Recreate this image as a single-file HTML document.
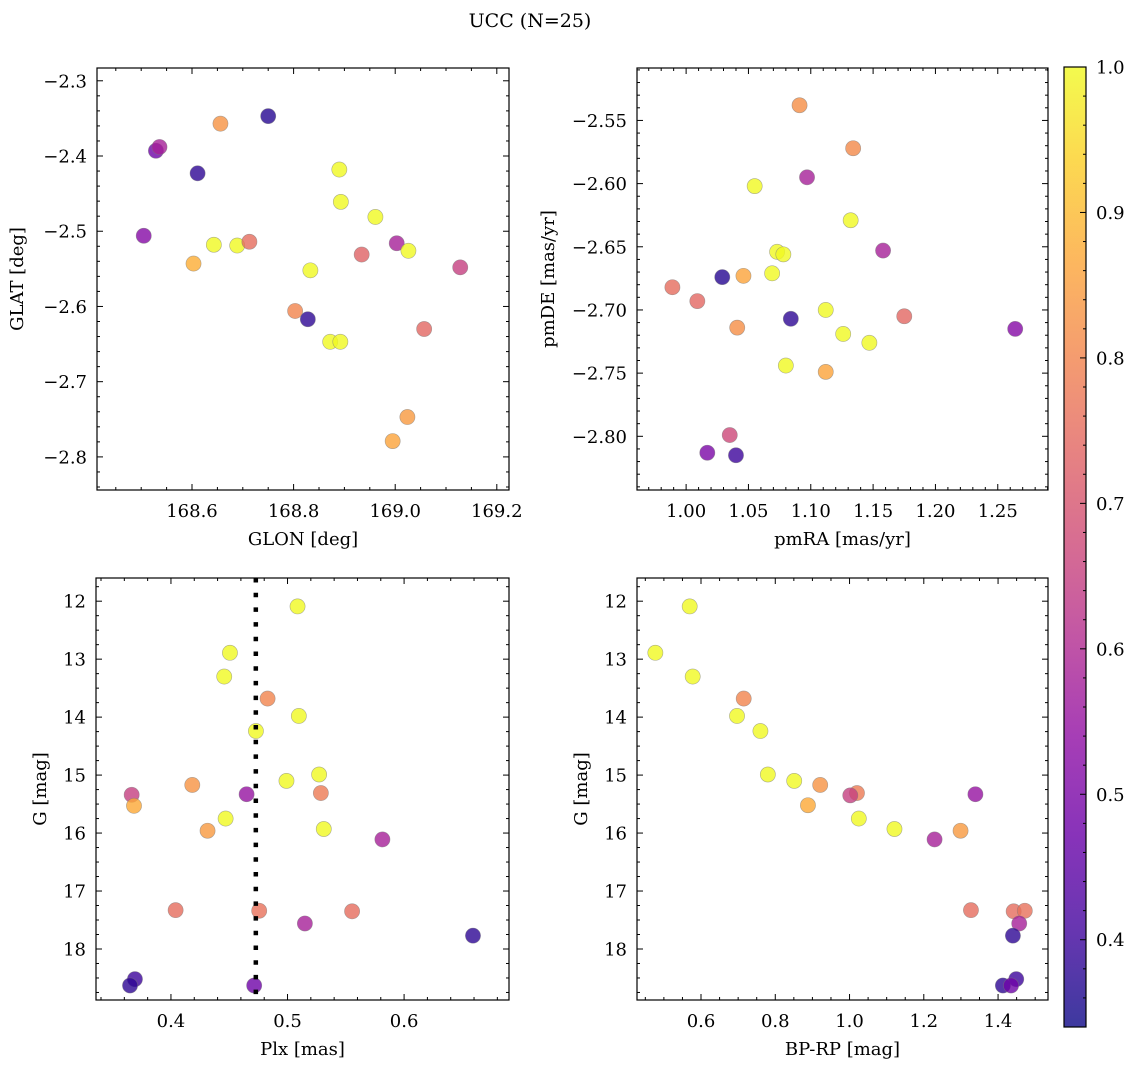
<!DOCTYPE html>
<html><head><meta charset="utf-8">
<style>
html,body{margin:0;padding:0;background:#fff;}
svg{display:block;font-family:"DejaVu Serif","Liberation Serif",serif;}
</style></head>
<body>
<svg id="fig" width="1136" height="1067" viewBox="0 0 1136 1067" xmlns="http://www.w3.org/2000/svg">
<text x="530" y="27" font-size="19" text-anchor="middle">UCC (N=25)</text>
</svg>
<script>
// ---- data: panel 1 (GLON vs GLAT)
const glonA = [168.505,168.529,168.536,168.603,168.611,168.643,168.656,168.689,168.713,168.750,168.803,168.828,168.833,168.872,168.892,168.890,168.893,168.934,168.961,169.003,169.026,169.024,168.995,169.057,169.128];
const glatA = [-2.506,-2.393,-2.388,-2.543,-2.423,-2.518,-2.357,-2.519,-2.514,-2.347,-2.606,-2.617,-2.552,-2.647,-2.647,-2.418,-2.461,-2.531,-2.481,-2.516,-2.526,-2.747,-2.779,-2.630,-2.548];
const probA = [0.52,0.48,0.58,0.88,0.38,1.0,0.83,1.0,0.75,0.37,0.80,0.38,1.0,1.0,1.0,1.0,1.0,0.73,1.0,0.58,1.0,0.84,0.86,0.74,0.65];
// ---- data: panel 2 (pmRA vs pmDE)
const pmraB = [0.989,1.009,1.017,1.029,1.035,1.040,1.041,1.046,1.055,1.069,1.073,1.078,1.080,1.084,1.091,1.097,1.112,1.112,1.126,1.132,1.134,1.147,1.158,1.175,1.264];
const pmdeB = [-2.682,-2.693,-2.813,-2.674,-2.799,-2.815,-2.714,-2.673,-2.602,-2.671,-2.654,-2.656,-2.744,-2.707,-2.538,-2.595,-2.700,-2.749,-2.719,-2.629,-2.572,-2.726,-2.653,-2.705,-2.715];
const probB = [0.75,0.74,0.50,0.37,0.67,0.40,0.82,0.86,1.0,1.0,1.0,1.0,1.0,0.38,0.82,0.58,1.0,0.86,1.0,1.0,0.81,1.0,0.58,0.74,0.52];
// ---- data: panel 3 (Plx vs G)
const plxC = [0.5086,0.4506,0.4457,0.4829,0.5097,0.4729,0.5271,0.4991,0.4183,0.5286,0.3663,0.4649,0.3683,0.4469,0.5311,0.4314,0.5814,0.4040,0.4757,0.5554,0.5149,0.6591,0.3691,0.3649,0.4714];
const gmagC = [12.09,12.89,13.30,13.68,13.98,14.24,14.99,15.10,15.17,15.31,15.34,15.33,15.53,15.75,15.93,15.96,16.11,17.33,17.34,17.35,17.56,17.77,18.52,18.63,18.63];
const probC = [1.0,1.0,1.0,0.80,1.0,1.0,1.0,1.0,0.83,0.78,0.65,0.55,0.87,1.0,1.0,0.84,0.58,0.75,0.76,0.75,0.58,0.38,0.40,0.38,0.48];
const plxLine = [0.4728];
// ---- data: panel 4 (BP-RP vs G)
const bprpD = [0.5695,0.477,0.5776,0.715,0.697,0.760,0.780,0.851,0.921,1.020,1.002,1.339,0.888,1.025,1.121,1.299,1.229,1.327,1.442,1.472,1.457,1.440,1.449,1.413,1.435];
const gmagD = [12.09,12.89,13.30,13.68,13.98,14.24,14.99,15.10,15.17,15.31,15.35,15.33,15.52,15.75,15.93,15.96,16.11,17.33,17.35,17.34,17.56,17.77,18.52,18.63,18.63];
const probD = [1.0,1.0,1.0,0.80,1.0,1.0,1.0,1.0,0.83,0.78,0.65,0.55,0.87,1.0,1.0,0.84,0.58,0.75,0.75,0.76,0.58,0.38,0.40,0.38,0.48];
// ---- tick labels
const ticksXA = [168.6,168.8,169.0,169.2], ticksYA = [-2.3,-2.4,-2.5,-2.6,-2.7,-2.8];
const ticksXB = [1.00,1.05,1.10,1.15,1.20,1.25], ticksYB = [-2.55,-2.60,-2.65,-2.70,-2.75,-2.80];
const ticksXC = [0.4,0.5,0.6], ticksYC = [12,13,14,15,16,17,18];
const ticksXD = [0.6,0.8,1.0,1.2,1.4], ticksYD = [12,13,14,15,16,17,18];
const cbTicks = [0.4,0.5,0.6,0.7,0.8,0.9,1.0];
const cbMin = 0.34, cbMax = 1.0;

const NS = "http://www.w3.org/2000/svg";
const fig = document.getElementById('fig');
const FS = 18;
function mk(tag, attrs, parent){ const e=document.createElementNS(NS,tag); for(const k in attrs) e.setAttribute(k,attrs[k]); (parent||fig).appendChild(e); return e; }
const plasma = [[13,8,135],[65,4,157],[106,0,168],[143,13,164],[177,42,144],[204,71,120],[225,100,98],[242,132,75],[252,166,54],[252,206,37],[240,249,33]];
function cmap(v){ let t=(v-cbMin)/(cbMax-cbMin); t=Math.max(0,Math.min(1,t)); const s=t*10, i=Math.min(9,Math.floor(s)), f=s-i; const a=plasma[i], b=plasma[i+1]; return 'rgb('+[0,1,2].map(k=>Math.round(a[k]+(b[k]-a[k])*f)).join(',')+')'; }
function fmt(v,d){ const s=Math.abs(v).toFixed(d); return (v<0?'\u2212':'')+s; }

function panel(o){
  const g = mk('g',{});
  
  
  const sx = v => o.L + (v-o.x0)/(o.x1-o.x0)*(o.R-o.L);
  const sy = v => o.inv ? o.T + (v-o.y0)/(o.y1-o.y0)*(o.B-o.T) : o.B - (v-o.y0)/(o.y1-o.y0)*(o.B-o.T);
  const pts = mk('g',{},g);
  
  
  for(let i=0;i<o.xs.length;i++){
    const c = mk('circle',{cx:sx(o.xs[i]),cy:sy(o.ys[i]),r:7.6,fill:cmap(o.cs[i]),'fill-opacity':0.8,stroke:'#7a7a7a','stroke-opacity':0.6,'stroke-width':0.6},pts);
    
    
  }
  if(o.vline){ for(const v of o.vline){ const l=mk('line',{x1:sx(v),x2:sx(v),y1:o.T,y2:o.B,stroke:'#000','stroke-width':4.5,'stroke-dasharray':'4.5,10.2'},g);
    
     } }
  const tk = mk('g',{stroke:'#000','stroke-width':1},g);
  const minorX = o.mx, minorY = o.my;
  const xs0 = Math.ceil((o.x0)/minorX-1e-6), xs1 = Math.floor(o.x1/minorX+1e-6);
  for(let k=xs0;k<=xs1;k++){ const v=k*minorX, x=sx(v); const major=Math.abs(((v/o.majX)-Math.round(v/o.majX)))<1e-4; const len=major?6:3;
    mk('line',{x1:x,x2:x,y1:o.B,y2:o.B-len},tk); mk('line',{x1:x,x2:x,y1:o.T,y2:o.T+len},tk); }
  const ys0 = Math.ceil(Math.min(o.y0,o.y1)/minorY-1e-6), ys1 = Math.floor(Math.max(o.y0,o.y1)/minorY+1e-6);
  for(let k=ys0;k<=ys1;k++){ const v=k*minorY, y=sy(v); const major=Math.abs((v/o.majY)-Math.round(v/o.majY))<1e-4; const len=major?6:3;
    mk('line',{x1:o.L,x2:o.L+len,y1:y,y2:y},tk); mk('line',{x1:o.R,x2:o.R-len,y1:y,y2:y},tk); }
  mk('rect',{x:o.L,y:o.T,width:o.R-o.L,height:o.B-o.T,fill:'none',stroke:'#000','stroke-width':1.2},g);
  for(const t of o.tx){ const e=mk('text',{x:sx(t),y:o.B+27,'font-size':FS,'text-anchor':'middle'},g); e.textContent=fmt(t,o.dx);
      }
  for(const t of o.ty){ const e=mk('text',{x:o.L-10,y:sy(t)+6.5,'font-size':FS,'text-anchor':'end'},g); e.textContent=fmt(t,o.dy);
      }
  const xl=mk('text',{x:(o.L+o.R)/2,y:o.B+55,'font-size':FS,'text-anchor':'middle'},g); xl.textContent=o.xlabel;
   
  const yl=mk('text',{x:0,y:0,'font-size':FS,'text-anchor':'middle',transform:'translate('+(o.ylx)+','+((o.T+o.B)/2)+') rotate(-90)'},g); yl.textContent=o.ylabel;
   
}

panel({name:'glon-glat-panel',L:97,R:509,T:68,B:490,x0:168.413,x1:169.224,y0:-2.844,y1:-2.283,inv:false,xs:glonA,ys:glatA,cs:probA,
  tx:ticksXA,ty:ticksYA,dx:1,dy:1,mx:0.05,my:0.02,majX:0.2,majY:0.1,xlabel:'GLON [deg]',ylabel:'GLAT [deg]',ylx:23});
panel({name:'pm-panel',L:637,R:1048,T:68,B:490,x0:0.9606,x1:1.2903,y0:-2.8425,y1:-2.5085,inv:false,xs:pmraB,ys:pmdeB,cs:probB,
  tx:ticksXB,ty:ticksYB,dx:2,dy:2,mx:0.01,my:0.01,majX:0.05,majY:0.05,xlabel:'pmRA [mas/yr]',ylabel:'pmDE [mas/yr]',ylx:554});
panel({name:'plx-g-panel',L:96,R:509,T:578,B:1000,x0:0.3357,x1:0.690,y0:11.60,y1:18.88,inv:true,xs:plxC,ys:gmagC,cs:probC,vline:plxLine,
  tx:ticksXC,ty:ticksYC,dx:1,dy:0,mx:0.02,my:0.25,majX:0.1,majY:1,xlabel:'Plx [mas]',ylabel:'G [mag]',ylx:46});
panel({name:'cmd-panel',L:637,R:1048,T:578,B:1000,x0:0.4276,x1:1.5345,y0:11.60,y1:18.88,inv:true,xs:bprpD,ys:gmagD,cs:probD,
  tx:ticksXD,ty:ticksYD,dx:1,dy:0,mx:0.05,my:0.25,majX:0.2,majY:1,xlabel:'BP-RP [mag]',ylabel:'G [mag]',ylx:587});

const cbL=1064, cbR=1086, cbT=67, cbB=1027;
const defs=mk('defs',{});
const grad=mk('linearGradient',{id:'cbg',x1:0,y1:1,x2:0,y2:0},defs);
for(let i=0;i<=20;i++){ const v=cbMin+(cbMax-cbMin)*i/20; mk('stop',{offset:(i/20),'stop-color':cmap(v),'stop-opacity':0.8},grad); }
const cb=mk('g',{});


mk('rect',{x:cbL,y:cbT,width:cbR-cbL,height:cbB-cbT,fill:'url(#cbg)',stroke:'#000','stroke-width':1.2},cb);
const cy = v => cbB - (v-cbMin)/(cbMax-cbMin)*(cbB-cbT);
for(let k=Math.ceil(cbMin/0.02);k<=50;k++){ const v=k*0.02; const major=Math.abs(v*10-Math.round(v*10))<1e-6; mk('line',{x1:cbR,x2:cbR-(major?6:3),y1:cy(v),y2:cy(v),stroke:'#000','stroke-width':1},cb); }
for(const t of cbTicks){ const e=mk('text',{x:1096,y:cy(t)+6.5,'font-size':FS},cb); e.textContent=t.toFixed(1);
    }
</script>
</body></html>
